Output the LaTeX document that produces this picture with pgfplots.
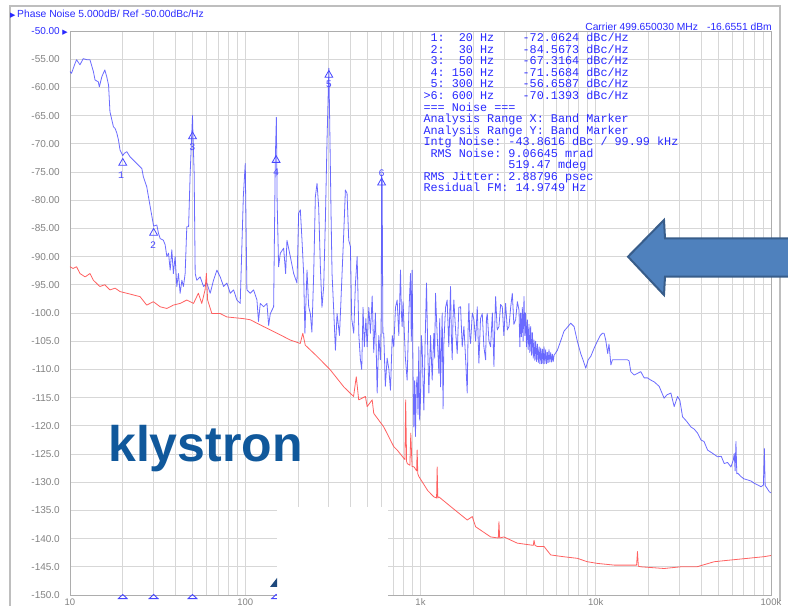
\documentclass[border=0pt]{standalone}
\usepackage{pgfplots}
\pgfplotsset{compat=1.18}
\usepackage{pgfplotstable}
\usepackage{fontspec}
\setmainfont{Liberation Sans}
\newfontfamily\monofont{Liberation Mono}
\newfontfamily\dejavu{DejaVu Sans}
\definecolor{tracecol}{RGB}{70,70,255}
\definecolor{redcol}{RGB}{255,80,80}
\definecolor{gridcol}{RGB}{215,215,215}
\definecolor{labgray}{RGB}{130,130,130}
\definecolor{hdrblue}{RGB}{40,40,255}
\definecolor{klycol}{RGB}{16,88,155}
\definecolor{arrowfill}{RGB}{79,129,189}
\definecolor{arrowdraw}{RGB}{56,93,138}
\definecolor{framegray}{RGB}{190,190,190}
\definecolor{darktri}{RGB}{31,73,125}

\pgfplotstableread{
f db
10 -57.2
10.2 -57.5
10.7 -55.7
10.9 -55.1
11.4 -56.0
11.9 -54.9
12.5 -55.1
13.0 -55.1
13.6 -57.2
13.9 -58.7
14.5 -59.0
14.7 -59.9
15.2 -58.1
15.8 -56.9
16.2 -58.1
16.6 -59.6
16.9 -64.3
17.7 -67.0
18.1 -67.3
18.5 -68.1
18.9 -69.3
19.3 -71.1
20.0 -72.1
20.4 -71.7
21.1 -71.4
22.0 -72.3
23.0 -72.9
24.6 -73.8
25.7 -74.4
26.2 -75.8
27.4 -77.6
28.7 -81.2
30.0 -84.6
31.3 -84.4
32.0 -85.9
32.7 -86.8
34.1 -87.1
34.9 -87.9
35.7 -90.0
36.5 -89.4
37.3 -92.4
38.1 -88.8
38.9 -93.0
39.8 -90.0
40.7 -95.3
41.6 -93.0
42.5 -96.5
43.5 -94.2
44.4 -95.3
45.4 -93.0
46.4 -84.7
47.5 -84.7
48.5 -75.2
50.0 -65.0
50.4 -69.3
51.1 -75.2
51.8 -93.0
52.9 -94.2
55.3 -93.6
57.8 -95.3
60.4 -94.7
63.1 -96.5
65.9 -94.2
68.9 -92.4
72.0 -93.6
75.2 -95.3
78.6 -94.7
82.1 -96.5
85.8 -95.9
89.6 -97.7
93.6 -98.3
97.5 -79.4
100 -73.5
102.2 -95.9
106.8 -96.5
111.6 -95.9
116.6 -97.7
119 -101.5
121.8 -98.3
127.3 -98.9
133.0 -98.3
136 -102.2
139.0 -100.1
145.2 -98.9
148.4 -72.9
150.5 -65.3
152 -80
155.0 -91.8
158.5 -89.4
165.6 -88.5
170 -93
173.0 -87.1
180.8 -90.0
188.9 -93.0
197.4 -94.7
201.7 -82.3
206.2 -81.7
210.8 -87.1
215.4 -93.0
219 -103.6
225.1 -92.4
230.1 -98.9
235.2 -100.1
240 -103.4
245.8 -93.0
251.2 -79.4
256.8 -77.0
262.4 -81.2
268.3 -91.8
274 -99
280.3 -95.3
286.6 -83.5
292.9 -69.3
300 -56.6
303.4 -66.4
308.7 -82.3
312.8 -93.0
319.7 -99.5
327 -106.6
334.1 -100.1
345 -104
356.8 -93.0
364.7 -85.9
372.8 -78.2
381.1 -78.8
389.5 -87.1
398.1 -88.2
405 -101
416 -103.6
425 -95
435 -90
445 -104
454 -108.3
462 -110
470 -99
478 -106
488 -101
496 -106
507 -99
518 -103.6
530 -97
541 -107
553 -100
566 -114.2
578 -104
591 -108.3
597 -100
600 -75.5
604 -76.5
610 -103.6
617 -103.6
630 -113
645 -108
660 -110
674 -113.7
690 -104
704 -106
720 -99
736 -97.7
752 -104
769 -92.4
778 -100
786 -102.4
795 -98
803 -101.2
820 -108
839 -111.9
858 -100
877 -93.0
886 -105
896 -92.4
906 -110
916 -120.2
926 -112
936 -121.9
946 -113
957 -111.3
968 -118
978 -106
989 -119
1000 -115.4
1011 -104
1022 -106
1033 -112
1045 -117.2
1063 -105
1082 -94.7
1099 -106
1116 -114.2
1141 -104
1166 -111.9
1180 -107
1192 -103.6
1205 -108
1218 -96.5
1245 -104
1273 -110.7
1287 -101
1301 -113.1
1330 -100
1345 -117
1359 -105.4
1390 -99
1420 -97.7
1450 -106
1484 -95.3
1500 -104
1517 -108.3
1533 -101
1550 -97.7
1585 -103
1620 -107.2
1655 -99
1693 -98.9
1730 -106
1769 -102.4
1808 -108
1848 -114.2
1869 -103
1889 -98.3
1910 -104
1931 -105.4
1975 -100
2018 -101.2
2063 -105
2108 -98.9
2130 -104
2154 -108.9
2200 -101
2251 -100.1
2300 -106
2352 -108.3
2378 -101
2404 -100.1
2458 -105
2512 -106
2570 -100
2625 -109.5
2654 -102
2683 -97.1
2740 -103
2803 -102.4
2866 -98.5
2929 -98.9
2990 -104
3060 -98.3
3130 -103
3198 -102.4
3270 -99
3341 -96.5
3410 -102
3491 -101.2
3570 -98
3648 -99.5
3690 -106
3728 -100
3770 -104.2
3810 -99
3850 -105
3896 -97.1
3940 -104
3980 -100
4025 -106
4070 -101.2
4115 -106.5
4160 -102
4205 -107
4253 -102.4
4300 -107.5
4350 -103.5
4400 -108
4444 -104.8
4490 -108.4
4540 -105
4590 -108.6
4642 -105.5
4700 -108.8
4750 -106
4800 -109
4851 -106.2
4905 -109
4960 -106.4
5010 -109
5068 -106
5120 -109
5180 -106.5
5240 -109
5296 -107
5350 -108.8
5410 -106.5
5470 -108.7
5534 -107
5600 -108.7
5660 -107.3
5720 -108.6
5782 -107.5
6041 -106.6
6300 -105
6595 -103.2
6900 -102.5
7197 -101.8
7520 -102.4
7850 -105
8209 -107.2
8500 -108.5
8768 -109.8
9050 -108.3
9363 -107.7
9800 -106.2
10220 -105
10600 -104
10918 -103.6
11155 -103.6
11400 -104.8
11700 -107.2
11900 -105.5
12200 -109.2
12450 -108.3
13302 -108.3
14200 -108.3
15170 -108.3
15500 -108.5
15849 -110.4
16560 -111.0
17304 -110.7
18070 -110.4
18891 -111.5
19700 -111.5
20622 -111.9
21530 -112.2
23000 -113
24550 -115.1
25500 -114.5
26830 -114.2
28030 -116.6
29290 -114.8
30200 -115.5
31280 -118.4
33000 -119.2
34910 -120.2
36500 -120.6
38110 -121.3
39810 -122.5
41500 -122.8
43450 -124.3
46000 -124.8
49580 -125.5
52000 -125.4
54080 -126.7
56500 -126.5
59060 -127.3
61000 -126
61700 -124.9
62400 -128
63100 -122.8
63800 -128.5
64500 -128.4
67400 -129.0
70000 -129.4
73560 -129.6
77000 -129.8
80350 -130.2
84000 -130.5
87700 -130.8
90500 -130.5
91600 -124.0
92600 -130.6
93640 -130.8
97830 -131.7
100000 -131.9
}\bluedata

\pgfplotstableread{
f db
10 -91.8
10.4 -92.1
10.9 -91.8
11.4 -93.0
12.2 -93.6
13.0 -93.0
13.6 -94.2
14.8 -95.3
15.8 -95.0
16.9 -95.9
18.1 -95.6
19.3 -96.2
21.1 -96.5
23.0 -96.8
25.1 -97.1
27.4 -98.6
29.9 -98.0
32.7 -98.9
35.7 -99.2
38.9 -98.6
42.5 -98.3
46.4 -97.7
50.7 -98.3
54.0 -96.5
56.5 -98.3
59.0 -95.9
60.0 -93.0
61.0 -97.7
64.5 -100.1
72.0 -100.1
78.6 -100.7
97.8 -101.0
106.8 -101.2
127 -102.4
152 -103.6
181 -104.8
206 -105.4
213 -103.6
220 -105.7
257 -107.7
306 -110.1
365 -113.1
415 -114.8
430 -111.3
444 -115.4
485 -114.8
496 -116.6
530 -115.4
541 -117.8
617 -120.2
704 -123.7
736 -124.3
815 -126
823 -115.4
833 -126.3
841 -126.7
870 -127
880 -121.3
895 -127.2
920 -127.3
950 -128
957 -124.3
965 -128.5
979 -129.0
1100 -131.5
1192 -132.6
1235 -132.8
1245 -127.3
1255 -132.8
1273 -132.6
1484 -134.3
1848 -136.7
1975 -136.1
2063 -137.9
2512 -139.7
2780 -139.9
2803 -137.0
2830 -139.9
2990 -139.7
3560 -140.8
4400 -141.2
4444 -140.3
4500 -141.2
4642 -141.4
5068 -141.4
5534 -142.9
6500 -143.2
7852 -143.5
8950 -144.1
10220 -144.4
12730 -144.7
15850 -144.7
17100 -144.7
17300 -142.3
17500 -144.9
18070 -145.0
24550 -145.3
30600 -145.0
37800 -145.0
47400 -144.1
58700 -143.8
73600 -143.5
91600 -143.2
100000 -143.0
}\reddata

\pgfplotstableread{
f db
20 -73.4
30 -85.8
50 -68.7
150 -72.9
300 -57.8
600 -76.9
}\markerdata

\pgfplotstableread{
f db l
19.6 -75.6 1
29.8 -88.0 2
50 -70.6 3
150 -75.0 4
300 -59.4 5
600 -75.3 6
}\labeldata

\pgfplotstableread{
f db
20 -150
30 -150
50 -150
150 -150
300 -150
600 -150
}\bottomdata

\begin{document}
\begin{tikzpicture}[x=1pt,y=1pt]
\useasboundingbox (0,0) rectangle (788,613);
% outer frame
\draw[framegray, line width=2pt] (10,7) -- (10,607) -- (780,607) -- (780,12);
\begin{axis}[
  at={(70pt,18pt)}, anchor=south west,
  width=701pt, height=564pt, scale only axis,
  xmode=log, xmin=10, xmax=100000, ymin=-150, ymax=-50,
  clip=false,
  axis line style={draw=black!32, line width=0.9pt},
  grid=both,
  major grid style={draw=gridcol, line width=0.9pt},
  minor grid style={draw=gridcol, line width=0.9pt},
  major tick length=0pt, minor tick length=0pt,
  xtick={10,100,1000,10000,100000},
  xticklabels={10,100,1k,10k,100k},
  ytick={-150,-145,...,-50},
  yticklabels={-150.0,-145.0,-140.0,-135.0,-130.0,-125.0,-120.0,-115.0,-110.0,-105.0,-100.0,-95.00,-90.00,-85.00,-80.00,-75.00,-70.00,-65.00,-60.00,-55.00,{\textcolor{hdrblue}{-50.00}\rlap{\hspace{2.5pt}\textcolor{hdrblue}{\dejavu\fontsize{7}{7}\selectfont ▶}}}},
  yticklabel style={font=\fontsize{10}{12}\selectfont, text=labgray, anchor=east, inner sep=0pt, xshift=-10pt},
  xticklabel style={font=\fontsize{9.5}{11}\selectfont, text=labgray, anchor=north, inner sep=0pt, yshift=-3.5pt},
]
\addplot[tracecol, line width=0.8pt, opacity=0.8, line join=round] table[x=f, y=db] {\bluedata};
\addplot[redcol, line width=0.8pt, opacity=0.9, line join=round] table[x=f, y=db] {\reddata};
\addplot[only marks, mark=triangle, mark size=4.5pt, tracecol, mark options={solid, line width=0.8pt}] table[x=f, y=db] {\markerdata};
\addplot[draw=none, mark=none, nodes near coords, point meta=explicit symbolic,
  every node near coord/.style={font=\monofont\fontsize{10}{11}\selectfont, text=tracecol, anchor=center, inner sep=0pt}]
  table[x=f, y=db, meta=l] {\labeldata};
\addplot[only marks, mark=triangle, mark size=5pt, tracecol, mark options={solid, line width=0.9pt, yscale=0.55, yshift=-4pt}] table[x=f, y=db] {\bottomdata};
\end{axis}
% header texts
\node[anchor=base west, inner sep=0, text=hdrblue] at (10,595.5) {\dejavu\fontsize{7}{7}\selectfont ▶};
\node[anchor=base west, inner sep=0, text=hdrblue, font=\fontsize{10.3}{12}\selectfont] at (17,595.5) {Phase Noise 5.000dB/ Ref -50.00dBc/Hz};
\node[anchor=base east, inner sep=0, text=hdrblue, font=\fontsize{10.3}{12}\selectfont] at (772,582.5) {Carrier 499.650030 MHz\hspace{9pt}-16.6551 dBm};
% marker table
\begin{scope}[every node/.style={anchor=base west, inner sep=0, text=hdrblue, font=\monofont\fontsize{11.8}{12}\selectfont}]
\node at (423.3,571.2) {~1:~~20~Hz~~~~-72.0624~dBc/Hz};
\node at (423.3,559.66) {~2:~~30~Hz~~~~-84.5673~dBc/Hz};
\node at (423.3,548.12) {~3:~~50~Hz~~~~-67.3164~dBc/Hz};
\node at (423.3,536.58) {~4:~150~Hz~~~~-71.5684~dBc/Hz};
\node at (423.3,525.04) {~5:~300~Hz~~~~-56.6587~dBc/Hz};
\node at (423.3,513.5) {>6:~600~Hz~~~~-70.1393~dBc/Hz};
\node at (423.3,501.96) {===~Noise~===};
\node at (423.3,490.42) {Analysis~Range~X:~Band~Marker};
\node at (423.3,478.88) {Analysis~Range~Y:~Band~Marker};
\node at (423.3,467.34) {Intg~Noise:~-43.8616~dBc~/~99.99~kHz};
\node at (423.3,455.8) {~RMS~Noise:~9.06645~mrad};
\node at (423.3,444.26) {~~~~~~~~~~~~519.47~mdeg};
\node at (423.3,432.72) {RMS~Jitter:~2.88796~psec};
\node at (423.3,421.18) {Residual~FM:~14.9749~Hz};
\end{scope}
% klystron label
\node[anchor=base west, inner sep=0, text=klycol, font=\bfseries\fontsize{50}{56}\selectfont] at (108,151) {klystron};
% white box and small dark triangle
\fill[white] (277,0) rectangle (388,106);
\fill[darktri] (270,26) -- (277,35) -- (277,26) -- cycle;
% arrow
\filldraw[fill=arrowfill, draw=arrowdraw, line width=2pt, line join=miter]
  (628,356.3) -- (664,393) -- (665,374.7) -- (795,374.7) -- (795,336.3) -- (665,336.3) -- (664,318) -- cycle;
\end{tikzpicture}
\end{document}
